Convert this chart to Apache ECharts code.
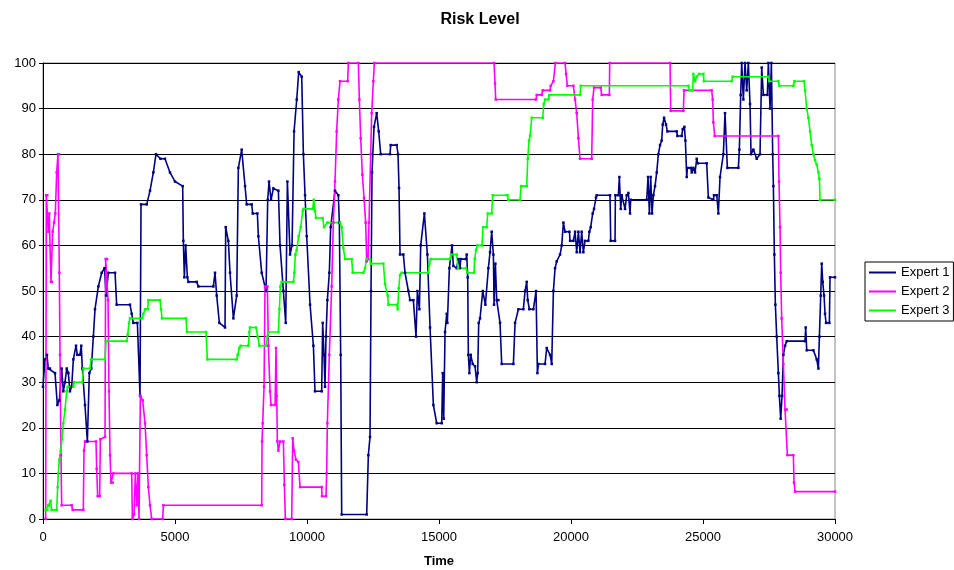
<!DOCTYPE html>
<html><head><meta charset="utf-8">
<script src="https://cdn.jsdelivr.net/npm/echarts@6/dist/echarts.min.js"></script>
<style>html,body{margin:0;padding:0;background:#fff}#c{width:954px;height:570px}</style>
</head><body><div id="c"></div>
<script>
const seriesNames = ['Expert 1', 'Expert 2', 'Expert 3'];
const xTicks = [0, 5000, 10000, 15000, 20000, 25000, 30000];
const yTicks = [0, 10, 20, 30, 40, 50, 60, 70, 80, 90, 100];

const expert1 = [[0,29],[76,35],[150,36],[200,33],[265,33],[455,32],[543,25],[620,26],[707,33],[770,28],[833,30],[900,33],[960,32],[1020,28],[1086,29],[1150,35],[1250,38],[1300,36],[1400,36],[1450,38],[1490,33],[1590,25],[1680,17],[1755,32],[1830,33],[1907,40],[1970,46],[2097,51],[2223,54],[2330,55],[2387,49],[2475,54],[2730,54],[2790,47],[3296,47],[3360,45],[3420,43],[3575,43],[3675,27],[3713,69],[3930,69],[4054,72],[4180,76],[4280,80],[4450,79],[4620,79],[4810,76],[5000,74],[5291,73],[5316,61],[5354,53],[5405,60],[5468,53],[5506,52],[5821,52],[5885,51],[6453,51],[6516,54],[6580,49],[6680,43],[6895,42],[6920,64],[7021,61],[7084,54],[7211,44],[7337,49],[7400,77],[7526,81],[7653,73],[7716,69],[7905,69],[7943,67],[8120,67],[8158,62],[8284,54],[8448,50],[8512,70],[8562,74],[8638,70],[8726,72.5],[8916,72],[8979,60],[9105,50],[9194,43],[9257,74],[9358,58],[9434,60],[9510,85],[9611,92],[9686,98],[9800,97],[9863,80],[9926,71],[9989,62],[10116,47],[10242,38],[10303,28],[10556,28],[10594,43],[10644,36],[10682,29],[10720,40],[10771,48],[10846,54],[10897,64],[11061,72],[11187,71],[11225,65],[11276,36],[11314,1],[12261,1],[12324,14],[12387,18],[12425,50],[12463,76],[12539,86],[12640,89],[12716,85],[12792,80],[13145,80],[13170,82],[13400,82],[13448,80],[13486,72.6],[13524,58],[13650,58],[13713,54],[13840,50],[13903,48],[14029,48],[14130,40],[14181,50],[14257,46],[14307,60],[14446,67],[14560,58],[14661,42],[14787,25],[14913,21],[15103,21],[15140,32],[15178,22],[15229,41],[15292,45],[15317,43],[15393,55],[15494,60],[15544,55.5],[15670,55],[15734,57],[15797,55],[15822,57],[16024,57],[16049,58],[16087,53],[16112,36],[16150,32],[16201,36],[16277,34],[16365,33.5],[16428,30],[16466,32],[16504,43],[16555,44],[16656,50],[16757,47],[16870,55],[16933,58.5],[16996,63],[17060,58],[17085,47],[17135,56],[17186,48],[17249,48],[17312,43],[17375,34],[17818,34],[17881,43],[18007,46],[18196,46],[18260,50],[18323,52],[18361,48],[18424,46],[18575,46],[18676,50],[18727,32],[18765,34],[19017,34],[19080,37.5],[19207,36],[19270,34],[19333,50],[19396,55],[19459,56.5],[19586,58],[19649,60],[19712,65],[19775,63],[19940,63],[19965,61],[20091,61],[20154,63],[20217,58.5],[20280,63],[20342,58.5],[20405,63],[20468,58.5],[20531,61],[20658,61],[20695,63],[20746,64],[20822,67],[20872,68],[20948,70.5],[20973,71],[21478,71],[21504,61],[21668,61],[21681,71],[21794,71],[21832,75],[21883,68],[21921,71],[22047,68],[22110,71],[22173,71.5],[22236,67],[22261,70],[22868,70],[22918,75],[22969,67],[23019,75],[23070,67],[23120,71],[23183,73],[23247,76],[23310,80],[23373,82],[23436,83],[23474,86.5],[23525,88],[23600,86.5],[23651,85],[24005,85],[24030,84],[24194,84],[24232,85.5],[24295,86],[24333,83],[24383,75],[24409,77],[24535,77],[24573,76],[24636,77],[24699,76],[24762,79],[24800,78],[25140,78],[25203,70.5],[25392,70],[25417,71],[25520,71],[25582,67],[25645,75],[25771,80],[25834,89],[25923,77],[26340,77],[26377,81],[26428,93],[26466,100],[26529,92],[26592,100],[26655,94],[26718,100],[26781,91],[26819,80],[26908,81],[27034,79],[27160,80],[27224,99],[27287,93],[27438,93],[27476,100],[27539,90],[27590,100],[27640,80],[27666,73],[27703,58],[27741,47],[27792,40],[27855,32],[27893,27],[27943,22],[27994,27],[28044,36],[28108,38],[28171,39],[28865,39],[28890,42],[28929,37],[29181,37],[29308,35],[29371,33],[29409,40],[29459,49],[29497,56],[29535,52],[29585,49],[29623,45],[29661,43],[29787,43],[29812,53],[30000,53]];

const expert2 = [[101,0],[126,71],[164,71],[202,63],[240,67],[265,60],[303,52],[341,52],[366,63],[417,65],[467,67],[518,76],[568,80],[606,80],[619,54],[644,36],[682,14],[707,3],[1086,3],[1124,2],[1528,2],[1553,15],[1591,17],[2008,17],[2033,11],[2071,5],[2147,5],[2172,17.5],[2349,18],[2374,57],[2425,57],[2463,48],[2500,28],[2539,14],[2576,8],[2640,8],[2665,10],[3360,10],[3385,0],[3448,1],[3499,10],[3550,3],[3600,10],[3637,0],[3688,27],[3776,26],[3865,21],[3928,14],[3991,7],[4054,3],[4117,0],[4534,0],[4559,3],[8284,3],[8297,17],[8322,21],[8373,29],[8410,51],[8499,51],[8537,38],[8600,28],[8638,25],[8790,25],[8827,37.5],[8853,27],[8878,17],[8916,15],[8979,17],[9105,17],[9143,7.5],[9181,0],[9421,0],[9459,17.7],[9509,15],[9585,13],[9674,12.5],[9737,7],[10556,7],[10569,5],[10720,5],[10745,10],[10771,21],[10846,36],[10935,51],[10998,65],[11061,74],[11124,85],[11187,92],[11251,96],[11541,96],[11566,100],[11945,100],[11983,92],[12034,83.5],[12097,75.5],[12160,70.4],[12223,65],[12261,56.5],[12312,57],[12349,65],[12413,80],[12450,89],[12513,96],[12551,100],[17085,100],[17123,95.5],[17148,92],[18676,92],[18702,93],[18891,93],[18929,94],[19207,94],[19232,95],[19333,96],[19409,100],[19775,100],[19813,97.6],[19863,95],[20091,95],[20154,92],[20217,89],[20280,83.5],[20342,79],[20784,79],[20822,92],[20872,94.6],[21125,94.6],[21163,93],[21453,93],[21466,100],[23752,100],[23777,89.5],[24257,89.5],[24282,94],[25329,94],[25367,92],[25392,87],[25443,84],[27855,84],[27880,74],[27918,64],[27943,54],[27981,44],[28044,34],[28108,24],[28171,24],[28196,14],[28423,14],[28448,8],[28487,6],[30000,6]];

const expert3 = [[101,2],[164,2],[200,3],[240,3],[290,4],[328,2],[518,2],[556,7],[581,10],[619,13],[669,15],[720,17.5],[770,21],[833,24],[897,28],[935,29],[1150,29],[1175,30],[1490,30],[1528,33],[1781,33],[1819,35],[2349,35],[2387,39],[3170,39],[3208,40.4],[3258,43],[3296,44],[3764,44],[3802,45],[3865,46],[3966,46],[3991,48],[4433,48],[4471,46],[4509,44],[5417,44],[5455,41],[6175,41],[6226,35],[7337,35],[7375,36],[7438,37.5],[7489,38],[7779,38],[7817,41],[7842,42],[8069,42],[8133,40],[8196,38],[8448,38],[8499,40],[8537,41],[8916,41],[8954,46],[8992,51],[9042,52],[9484,52],[9522,54],[9560,58],[9610,59],[9686,62],[9762,64],[9838,67.5],[9863,68],[10217,68],[10255,70],[10305,67.5],[10341,66],[10594,66],[10644,64],[10771,65],[11251,65],[11314,64],[11377,59.4],[11440,57],[11693,57],[11731,54],[12135,54],[12198,55],[12261,57],[12387,57],[12413,56],[12893,56],[12956,51.5],[13057,49],[13082,47],[13400,47],[13436,46],[13474,50.6],[13524,53.5],[13587,54],[14597,54],[14635,56],[14686,57],[15418,57],[15456,58],[15670,58],[15721,55],[16024,55],[16075,54],[16327,54],[16352,57],[16403,59],[16453,60],[16630,60],[16668,64],[16807,64],[16845,67],[16997,67],[17034,71],[17590,71],[17628,70],[18070,70],[18108,73],[18323,73],[18361,79],[18411,83],[18449,84],[18512,88],[18929,88],[18967,91],[19017,92],[19144,92],[19182,93],[20342,93],[20367,95],[24447,95],[24485,94],[24609,94],[24634,97.6],[24697,96],[24761,97],[24862,97.6],[25013,97.6],[25038,96],[26087,96],[26125,97],[27476,97],[27514,96],[27855,96],[27893,95],[28423,95],[28461,96],[28827,96],[28865,94],[28929,90],[28992,88],[29055,85],[29118,82],[29181,80],[29244,78.7],[29308,77.7],[29371,76],[29409,74.6],[29434,70],[30000,70]];

const seriesData = [expert1, expert2, expert3];
const colors = ['#000080', '#FF00FF', '#00FF00'];
const font = 'Liberation Sans, Arial, sans-serif';

const chart = echarts.init(document.getElementById('c'), null, {renderer: 'canvas'});
chart.setOption({
  animation: false,
  backgroundColor: '#ffffff',
  color: colors,
  title: {
    text: 'Risk Level', left: 475, top: 7, textAlign: 'center',
    textStyle: {fontFamily: font, fontSize: 16, fontWeight: 'bold', color: '#000'}
  },
  legend: {
    orient: 'vertical', left: 865, top: 262,
    data: seriesNames,
    icon: 'rect', itemWidth: 27, itemHeight: 2, itemGap: 6,
    padding: [4, 4, 4, 4],
    borderColor: '#000', borderWidth: 1,
    textStyle: {fontFamily: font, fontSize: 13, color: '#000'}
  },
  grid: {left: 43, right: 119, top: 63, bottom: 51, show: true, borderColor: '#888', borderWidth: 1,
    containLabel: false, outerBoundsMode: 'none'},
  xAxis: {
    type: 'value', min: 0, max: 30000, interval: 5000,
    name: 'Time', nameLocation: 'middle', nameGap: 36,
    nameTextStyle: {fontFamily: font, fontSize: 13, fontWeight: 'bold', color: '#000'},
    axisLine: {lineStyle: {color: '#000', width: 1}},
    axisTick: {show: true, length: 5, lineStyle: {color: '#000'}},
    axisLabel: {fontFamily: font, fontSize: 13, color: '#000', margin: 12,
      formatter: v => xTicks.includes(v) ? String(v) : ''},
    splitLine: {show: false}
  },
  yAxis: {
    type: 'value', min: 0, max: 100, interval: 10,
    axisLine: {show: true, lineStyle: {color: '#000', width: 1}},
    axisTick: {show: true, length: 4, lineStyle: {color: '#000'}},
    axisLabel: {fontFamily: font, fontSize: 13, color: '#000', margin: 7,
      formatter: v => yTicks.includes(v) ? String(v) : ''},
    splitLine: {show: true, lineStyle: {color: '#000', width: 1}}
  },
  series: seriesData.map((d, i) => ({
    name: seriesNames[i], type: 'line', data: d,
    showSymbol: true, showAllSymbol: true, symbol: 'rect', symbolSize: 2.5,
    itemStyle: {color: colors[i]},
    lineStyle: {color: colors[i], width: 1.6},
    emphasis: {disabled: true}
  }))
});
</script></body></html>
